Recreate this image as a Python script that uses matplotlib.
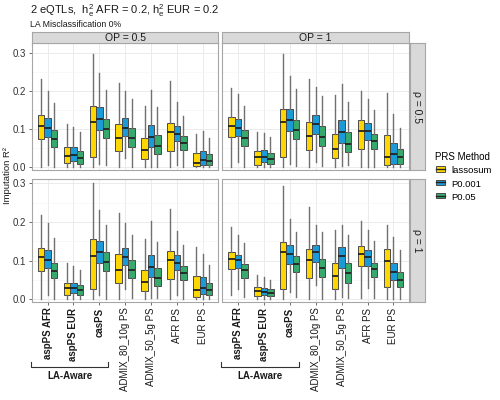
import matplotlib
matplotlib.use('Agg')
import matplotlib.pyplot as plt
import matplotlib.transforms as mtransforms
from matplotlib.legend_handler import HandlerBase
from matplotlib.patches import Rectangle, Patch
from matplotlib.lines import Line2D

plt.rcParams['font.family'] = ['Liberation Sans', 'DejaVu Sans']

categories = ['aspPS AFR', 'aspPS EUR', 'casPS', 'ADMIX_80_10g PS',
              'ADMIX_50_5g PS', 'AFR PS', 'EUR PS']
bold_cats = ['aspPS AFR', 'aspPS EUR', 'casPS']
methods = ['lassosum', 'P0.001', 'P0.05']
colors = ['#FFD700', '#1A9AD6', '#38A96C']
op_labels = ['OP = 0.5', 'OP = 1']
rho_labels = ['\u03c1 = 0.5', '\u03c1 = 1']

# rows: whislo, q1, median, q3, whishi  (category by category, methods in order)
op05_rho05 = [
    [0.000, 0.075, 0.109, 0.137, 0.231], [0.007, 0.080, 0.102, 0.128, 0.201], [0.000, 0.054, 0.073, 0.099, 0.168],
    [0.000, 0.012, 0.029, 0.052, 0.114], [0.000, 0.016, 0.031, 0.052, 0.106], [0.000, 0.010, 0.024, 0.043, 0.092],
    [0.000, 0.028, 0.120, 0.161, 0.298], [0.010, 0.099, 0.127, 0.158, 0.248], [0.005, 0.076, 0.101, 0.127, 0.203],
    [0.000, 0.043, 0.076, 0.113, 0.220], [0.024, 0.083, 0.104, 0.130, 0.199], [0.000, 0.054, 0.076, 0.104, 0.179],
    [0.000, 0.023, 0.045, 0.078, 0.161], [0.002, 0.052, 0.080, 0.111, 0.203], [0.002, 0.035, 0.056, 0.085, 0.158],
    [0.000, 0.042, 0.092, 0.116, 0.227], [0.005, 0.068, 0.088, 0.109, 0.172], [0.000, 0.045, 0.064, 0.082, 0.134],
    [0.000, 0.003, 0.012, 0.038, 0.087], [0.000, 0.007, 0.019, 0.042, 0.095], [0.000, 0.007, 0.017, 0.035, 0.078],
]
op1_rho05 = [
    [0.002, 0.080, 0.109, 0.132, 0.208], [0.014, 0.082, 0.104, 0.127, 0.193], [0.000, 0.056, 0.076, 0.099, 0.161],
    [0.000, 0.007, 0.026, 0.043, 0.092], [0.000, 0.014, 0.028, 0.045, 0.090], [0.000, 0.010, 0.023, 0.038, 0.080],
    [0.000, 0.026, 0.120, 0.154, 0.298], [0.010, 0.095, 0.125, 0.153, 0.239], [0.004, 0.073, 0.099, 0.125, 0.205],
    [0.000, 0.045, 0.083, 0.120, 0.231], [0.014, 0.088, 0.113, 0.137, 0.210], [0.004, 0.056, 0.080, 0.109, 0.187],
    [0.000, 0.024, 0.049, 0.088, 0.189], [0.004, 0.064, 0.092, 0.125, 0.219], [0.005, 0.040, 0.061, 0.092, 0.172],
    [0.000, 0.047, 0.095, 0.123, 0.201], [0.002, 0.071, 0.094, 0.116, 0.180], [0.000, 0.047, 0.069, 0.088, 0.149],
    [0.000, 0.005, 0.026, 0.085, 0.194], [0.000, 0.010, 0.036, 0.064, 0.140], [0.000, 0.009, 0.028, 0.049, 0.104],
]
op05_rho1 = [
    [0.000, 0.073, 0.108, 0.132, 0.219], [0.010, 0.080, 0.102, 0.127, 0.196], [0.000, 0.054, 0.073, 0.095, 0.158],
    [0.000, 0.010, 0.028, 0.043, 0.094], [0.002, 0.016, 0.028, 0.043, 0.087], [0.000, 0.010, 0.023, 0.036, 0.076],
    [0.000, 0.026, 0.113, 0.156, 0.300], [0.012, 0.095, 0.121, 0.151, 0.231], [0.002, 0.073, 0.097, 0.123, 0.193],
    [0.000, 0.043, 0.076, 0.116, 0.222], [0.026, 0.088, 0.109, 0.132, 0.196], [0.004, 0.056, 0.076, 0.101, 0.167],
    [0.000, 0.021, 0.045, 0.075, 0.156], [0.004, 0.057, 0.083, 0.114, 0.201], [0.004, 0.035, 0.056, 0.080, 0.147],
    [0.000, 0.052, 0.102, 0.125, 0.234], [0.012, 0.075, 0.094, 0.114, 0.177], [0.000, 0.049, 0.069, 0.085, 0.139],
    [0.000, 0.007, 0.023, 0.059, 0.135], [0.002, 0.014, 0.029, 0.057, 0.118], [0.000, 0.012, 0.024, 0.042, 0.088],
]
op1_rho1 = [
    [0.012, 0.078, 0.104, 0.121, 0.186], [0.026, 0.080, 0.102, 0.114, 0.165], [0.005, 0.056, 0.075, 0.092, 0.146],
    [0.002, 0.009, 0.021, 0.031, 0.064], [0.002, 0.010, 0.019, 0.029, 0.057], [0.002, 0.009, 0.017, 0.026, 0.049],
    [0.002, 0.026, 0.121, 0.147, 0.293], [0.019, 0.090, 0.116, 0.139, 0.208], [0.007, 0.071, 0.092, 0.111, 0.173],
    [0.002, 0.056, 0.101, 0.130, 0.239], [0.038, 0.097, 0.123, 0.140, 0.191], [0.002, 0.057, 0.082, 0.104, 0.175],
    [0.002, 0.026, 0.059, 0.095, 0.180], [0.007, 0.082, 0.111, 0.134, 0.193], [0.004, 0.043, 0.068, 0.094, 0.167],
    [0.004, 0.085, 0.118, 0.137, 0.201], [0.029, 0.087, 0.109, 0.128, 0.180], [0.004, 0.057, 0.078, 0.095, 0.151],
    [0.002, 0.031, 0.099, 0.130, 0.193], [0.002, 0.049, 0.071, 0.094, 0.161], [0.002, 0.033, 0.050, 0.071, 0.128],
]

panels = [[op05_rho05, op1_rho05], [op05_rho1, op1_rho1]]

W, H = 500, 400
fig = plt.figure(figsize=(5, 4), dpi=100)

def px_rect(x0, y0, x1, y1):
    return [x0 / W, 1 - y1 / H, (x1 - x0) / W, (y1 - y0) / H]

col_x = [(32, 218.3), (222.3, 409)]
row_y = [(43.3, 170), (179.3, 302)]
row_ylim = [(-0.007, 0.325), (-0.007, 0.310)]
border = '#A6A6A6'
offsets = [-0.25, 0, 0.25]

axes = [[None, None], [None, None]]
for r in range(2):
    for c in range(2):
        ax = fig.add_axes(px_rect(col_x[c][0], row_y[r][0], col_x[c][1], row_y[r][1]))
        axes[r][c] = ax
        data = panels[r][c]
        for m in range(3):
            stats, pos = [], []
            for i in range(len(categories)):
                lo, q1, med, q3, hi = data[i * 3 + m]
                stats.append(dict(whislo=lo, q1=q1, med=med, q3=q3, whishi=hi))
                pos.append(i + 1 + offsets[m])
            ax.bxp(stats, positions=pos, widths=0.25, showfliers=False, showcaps=False,
                   patch_artist=True,
                   boxprops=dict(facecolor=colors[m], edgecolor='#4A4A4A', linewidth=0.7),
                   whiskerprops=dict(color='#707070', linewidth=1.0),
                   medianprops=dict(color='#222222', linewidth=1.3),
                   manage_ticks=False)
        ax.set_xlim(0.4, len(categories) + 0.6)
        ax.set_ylim(*row_ylim[r])
        ax.set_yticks([0, 0.1, 0.2, 0.3])
        ax.set_yticks([0.05, 0.15, 0.25], minor=True)
        ax.set_xticks(range(1, len(categories) + 1))
        ax.grid(True, which='major', color='#EBEBEB', linewidth=0.7)
        ax.grid(True, which='minor', axis='y', color='#F4F4F4', linewidth=0.4)
        ax.set_axisbelow(True)
        for s in ax.spines.values():
            s.set_color(border)
            s.set_linewidth(0.8)
        ax.tick_params(which='minor', length=0)
        ax.tick_params(which='major', length=2.5, width=0.6, color='#555555',
                       labelsize=7, labelcolor='#333333', pad=1.5)
        if c == 0:
            ax.set_yticklabels(['0.0', '0.1', '0.2', '0.3'])
        else:
            ax.tick_params(axis='y', left=False, labelleft=False)
        if r == 1:
            ax.set_xticklabels(categories, rotation=90, fontsize=7, color='#1a1a1a')
            for lab in ax.get_xticklabels():
                if lab.get_text() in bold_cats:
                    lab.set_fontweight('bold')
        else:
            ax.tick_params(axis='x', bottom=False, labelbottom=False)

# strips
for c in range(2):
    sx = fig.add_axes(px_rect(col_x[c][0], 32.3, col_x[c][1], 43.3))
    sx.set_facecolor('#D9D9D9')
    sx.set_xticks([]); sx.set_yticks([])
    for s in sx.spines.values():
        s.set_color(border); s.set_linewidth(0.8)
    sx.text(0.5, 0.45, op_labels[c], ha='center', va='center', fontsize=7.5, color='#1a1a1a')
for r in range(2):
    sy = fig.add_axes(px_rect(410, row_y[r][0], 425, row_y[r][1]))
    sy.set_facecolor('#D9D9D9')
    sy.set_xticks([]); sy.set_yticks([])
    for s in sy.spines.values():
        s.set_color(border); s.set_linewidth(0.8)
    sy.text(0.5, 0.5, rho_labels[r], ha='center', va='center', rotation=270,
            fontsize=7.5, color='#1a1a1a')

# LA-Aware brackets under the first three categories
for c in range(2):
    ax = axes[1][c]
    tr = mtransforms.blended_transform_factory(ax.transData, fig.transFigure)
    y_line = 1 - 366.7 / H
    y_tick = 1 - 361.5 / H
    ax.add_line(Line2D([0.35, 0.35, 3.35, 3.35], [y_tick, y_line, y_line, y_tick],
                       transform=tr, color='#333333', linewidth=0.8, clip_on=False))
    ax.text(1.85, 1 - 376 / H, 'LA-Aware', transform=tr, ha='center', va='center',
            fontsize=7, fontweight='bold', color='#1a1a1a')

# titles
fig.text(30.5 / W, 1 - 11 / H,
         r'2 eQTLs,  $\mathregular{h_e^2}$ AFR = 0.2, $\mathregular{h_e^2}$ EUR = 0.2',
         ha='left', va='center', fontsize=8, color='#1a1a1a')
fig.text(30.5 / W, 1 - 24.5 / H, 'LA Misclassification 0%', ha='left', va='center',
         fontsize=6.3, color='#1a1a1a')
fig.text(8 / W, 1 - 176 / H, 'Imputation R\u00b2', rotation=90, ha='center', va='center',
         fontsize=6.8, color='#1a1a1a')

# legend with boxplot-like keys
class BoxKey(HandlerBase):
    def create_artists(self, legend, orig, xd, yd, width, height, fontsize, trans):
        fc = orig.get_facecolor()
        bw, bh = width * 0.75, height * 0.7
        x0 = xd + (width - bw) / 2
        y0 = yd + (height - bh) / 2
        rect = Rectangle((x0, y0), bw, bh, facecolor=fc, edgecolor='#4A4A4A',
                         linewidth=0.7, transform=trans)
        med = Line2D([x0, x0 + bw], [y0 + bh / 2] * 2, color='#222222', linewidth=1.0,
                     transform=trans)
        return [rect, med]

handles = [Patch(facecolor=col, label=m) for col, m in zip(colors, methods)]
leg = fig.legend(handles=handles, labels=methods, title='PRS Method',
                 handler_map={Patch: BoxKey()}, loc='upper left',
                 bbox_to_anchor=(435 / W, 1 - 152 / H), frameon=False,
                 fontsize=6.8, title_fontsize=7, handlelength=1.2, handleheight=0.9,
                 handletextpad=0.55, labelspacing=0.45, borderaxespad=0, borderpad=0)
leg._legend_box.align = 'left'

fig.savefig('out.png', dpi=100)
